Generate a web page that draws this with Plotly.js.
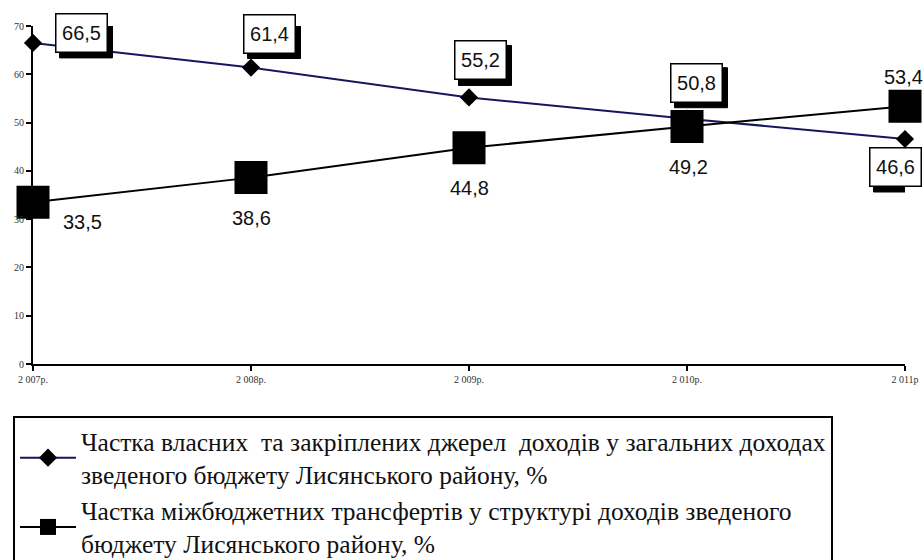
<!DOCTYPE html>
<html>
<head>
<meta charset="utf-8">
<script src="https://cdn.plot.ly/plotly-3.0.1.min.js"></script>
<style>html,body{margin:0;padding:0;background:#fff;}#chart{width:924px;height:560px;}</style>
</head>
<body>
<div id="chart"></div>
<script>
// ---- data ----
const years = ['2 007р.', '2 008р.', '2 009р.', '2 010р.', '2 011р'];
const ownShare = [66.5, 61.4, 55.2, 50.8, 46.6];
const transferShare = [33.5, 38.6, 44.8, 49.2, 53.4];
const ownName = 'Частка власних  та закріплених джерел  доходів у загальних доходах<br>зведеного бюджету Лисянського району, %';
const transferName = 'Частка міжбюджетних трансфертів у структурі доходів зведеного<br>бюджету Лисянського району, %';
const yTicks = [0, 10, 20, 30, 40, 50, 60, 70];

// ---- label offsets (px, style only) ----
const ownLabelShift = [[48, 10], [18, 34], [11, 37], [9, 36], [-10, -28]];
const trLabelShift = [[49, -20], [0, -40], [0, -40], [1, -41], [-2, 29]];
const BOX_W = 53, BOX_H = 40, SHADOW = 5;

const SERIF = "'Liberation Serif', 'Times New Roman', 'DejaVu Serif', serif";
const SANS = "'Liberation Sans', Arial, sans-serif";
const fmt = v => v.toFixed(1).replace('.', ',');
const xIdx = years.map((_, i) => i);

const traces = [
  {
    x: xIdx, y: ownShare, name: ownName, type: 'scatter', mode: 'lines+markers',
    line: {color: '#16165f', width: 2},
    marker: {symbol: 'diamond', size: 14, color: '#000'},
    cliponaxis: false
  },
  {
    x: xIdx, y: transferShare, name: transferName, type: 'scatter', mode: 'lines+markers',
    line: {color: '#000', width: 2},
    marker: {symbol: 'square', size: 33, color: '#000'},
    cliponaxis: false
  }
];

const annotations = [];
const shapes = [];
ownShare.forEach((v, i) => {
  const dx = ownLabelShift[i][0], dy = ownLabelShift[i][1];
  shapes.push({
    type: 'rect', layer: 'above',
    xref: 'x', xsizemode: 'pixel', xanchor: i,
    x0: dx - BOX_W / 2 + SHADOW, x1: dx + BOX_W / 2 + SHADOW,
    yref: 'y', ysizemode: 'pixel', yanchor: v,
    y0: dy - BOX_H / 2 - SHADOW, y1: dy + BOX_H / 2 - SHADOW,
    fillcolor: '#000', line: {color: '#000', width: 1}
  });
  annotations.push({x: i, y: v, xref: 'x', yref: 'y', showarrow: false, text: fmt(v),
    xshift: dx, yshift: dy,
    font: {family: SANS, size: 20, color: '#111'},
    width: BOX_W - 11, height: BOX_H - 11, borderpad: 4, borderwidth: 1.5,
    bgcolor: '#fff', bordercolor: '#000'});
});
transferShare.forEach((v, i) => {
  annotations.push({x: i, y: v, xref: 'x', yref: 'y', showarrow: false, text: fmt(v),
    xshift: trLabelShift[i][0], yshift: trLabelShift[i][1],
    font: {family: SANS, size: 20, color: '#111'}});
});

const layout = {
  width: 924, height: 560,
  margin: {l: 33, r: 19, t: 26, b: 196},
  paper_bgcolor: '#fff', plot_bgcolor: '#fff',
  showlegend: true,
  legend: {
    x: (13 - 33) / 872, xref: 'paper', xanchor: 'left',
    y: 1 - 416 / 560, yref: 'container', yanchor: 'top',
    bordercolor: '#000', borderwidth: 2, bgcolor: '#fff',
    font: {family: SERIF, size: 25.5, color: '#111'},
    tracegroupgap: 0, itemwidth: 56
  },
  xaxis: {
    type: 'linear', range: [0, 4], tickmode: 'array', tickvals: xIdx, ticktext: years,
    showgrid: false, zeroline: false, showline: true, linecolor: '#000', linewidth: 2,
    ticks: 'outside', ticklen: 5, tickcolor: '#000', tickwidth: 2,
    tickfont: {family: SERIF, size: 10, color: '#333'}
  },
  yaxis: {
    range: [0, 70], tickmode: 'array', tickvals: yTicks,
    showgrid: false, zeroline: false, showline: true, linecolor: '#000', linewidth: 2,
    ticks: 'outside', ticklen: 5, tickcolor: '#000', tickwidth: 2,
    tickfont: {family: SERIF, size: 10, color: '#333'}
  },
  shapes: shapes,
  annotations: annotations
};

Plotly.newPlot('chart', traces, layout, {staticPlot: true, displayModeBar: false});
</script>
</body>
</html>
